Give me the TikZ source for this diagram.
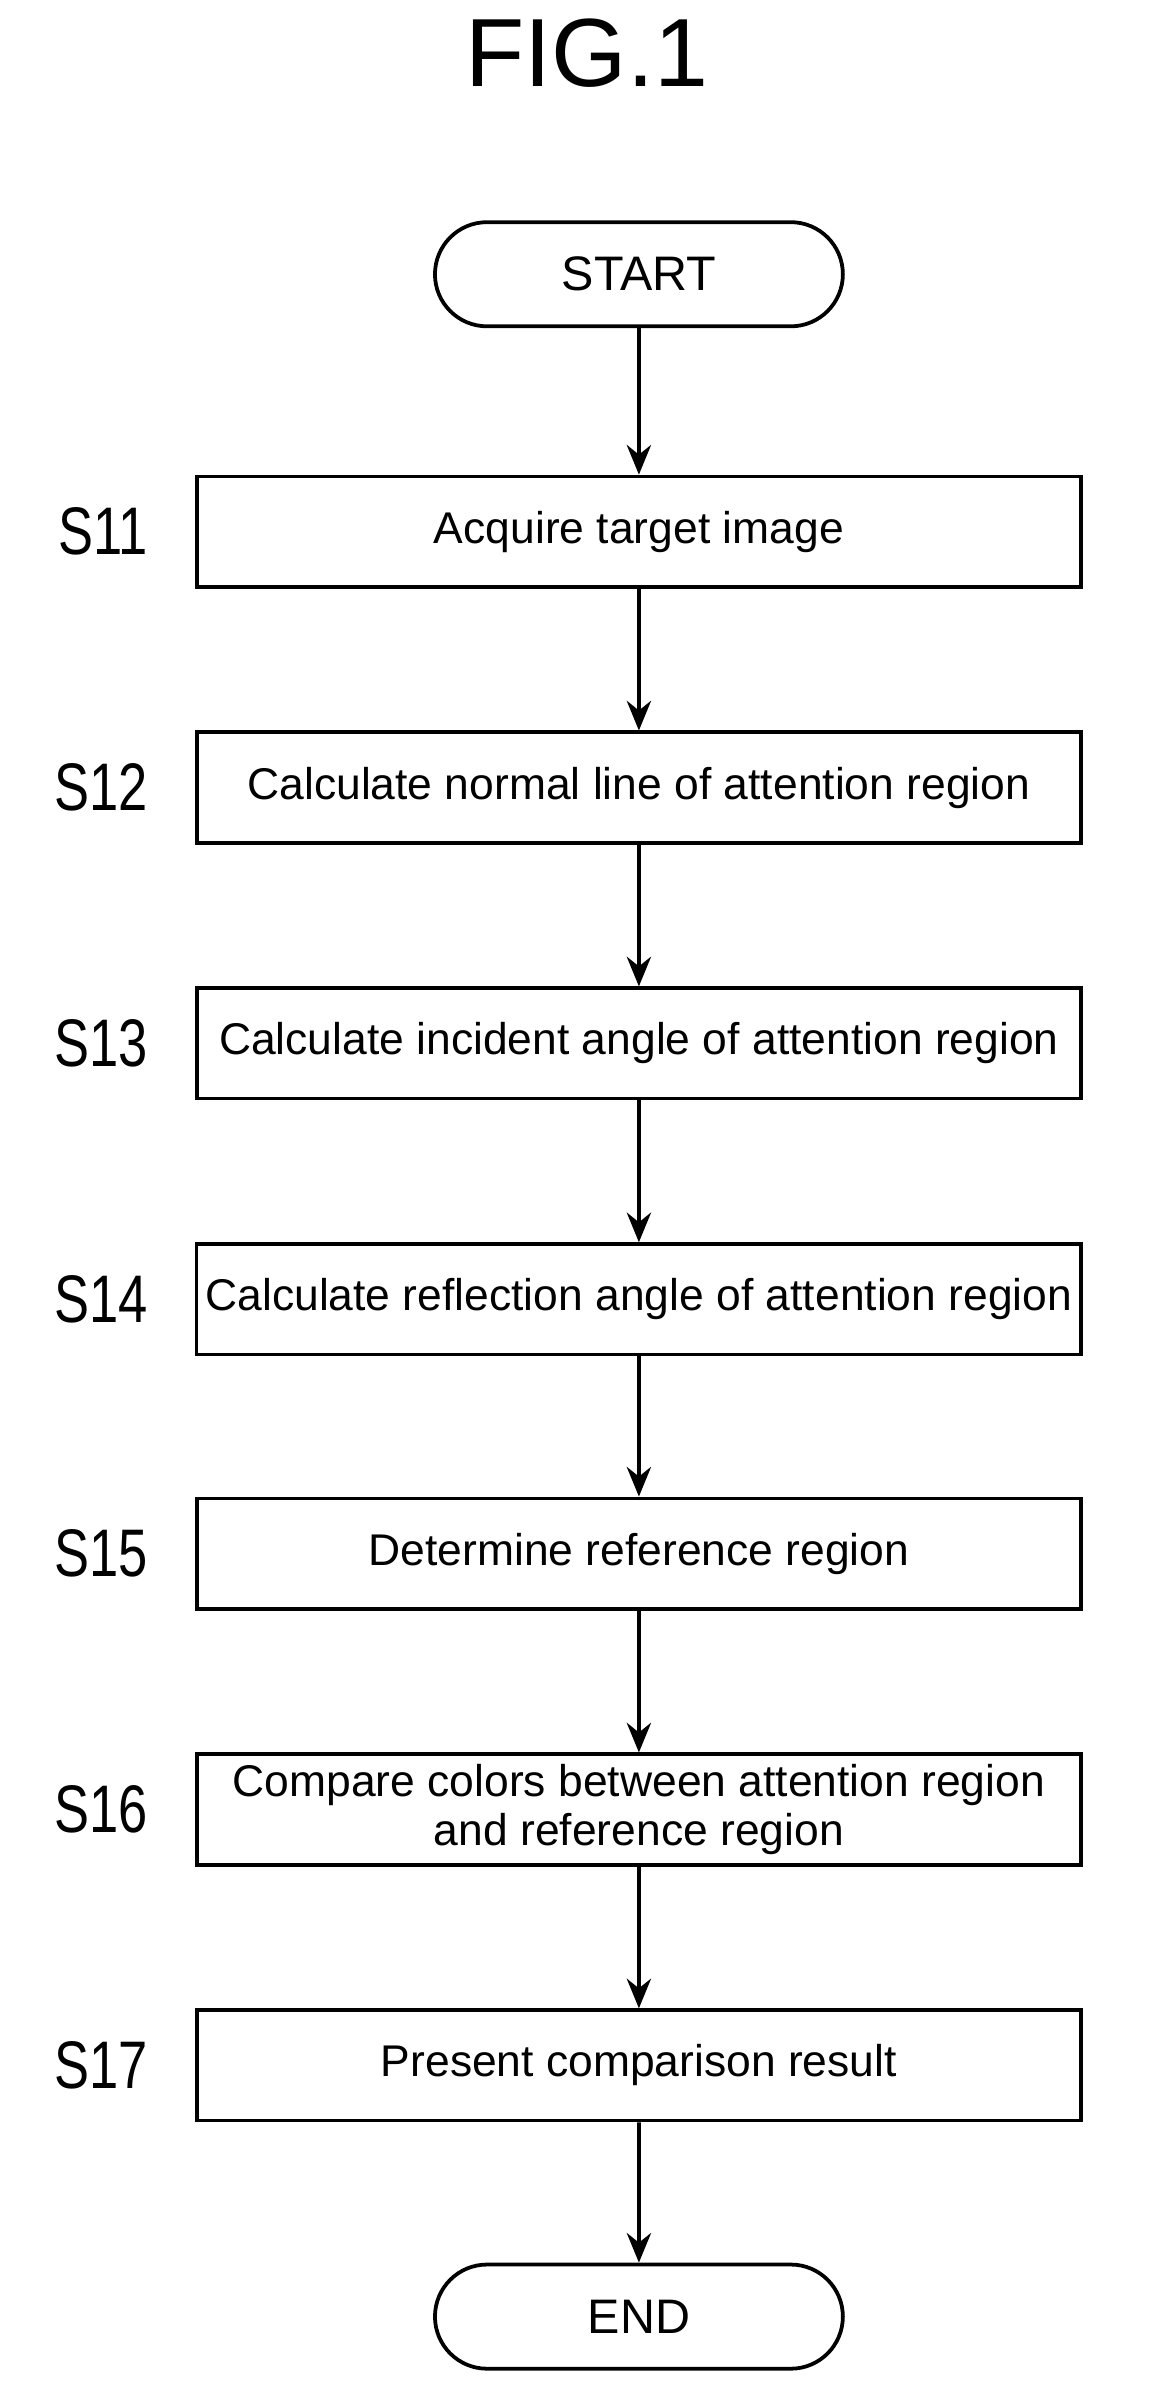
\documentclass[tikz,border=0pt]{standalone}
\usepackage{fontspec}
\setmainfont{Liberation Sans}
\newfontfamily\narrowfont[FakeStretch=0.78]{Liberation Sans}
\usetikzlibrary{arrows.meta, positioning, shapes.misc}

\begin{document}
\begin{tikzpicture}[
    x=0.02cm, y=-0.02cm,
    process/.style={rectangle, draw, line width=1.4pt, minimum width=11.54cm, minimum height=1.44cm, align=center, font=\fontsize{16.5}{18.5}\selectfont},
    terminal/.style={rounded rectangle, draw, line width=1.4pt, minimum width=5.56cm, minimum height=1.36cm, font=\fontsize{18}{20}\selectfont},
    steplabel/.style={font=\narrowfont\fontsize{25}{27}\selectfont, anchor=center},
    arrow/.style={-{Stealth[length=11pt,width=9pt]}, line width=1.4pt}
]
\useasboundingbox (0,0) rectangle (750,1571);

% Title
\node[font=\fontsize{36}{40}\selectfont] (title) at (383,35) {FIG.1};

% Terminals
\node[terminal] (start) at (417,179) {START};
\node[terminal] (end) at (417,1512) {END};

% Process steps
\node[process] (s11) at (417,347) {Acquire target image};
\node[process] (s12) at (417,514) {Calculate normal line of attention region};
\node[process] (s13) at (417,681) {Calculate incident angle of attention region};
\node[process] (s14) at (417,848) {Calculate reflection angle of attention region};
\node[process] (s15) at (417,1014) {Determine reference region};
\node[process] (s16) at (417,1181) {Compare colors between attention region\\and reference region};
\node[process] (s17) at (417,1348) {Present comparison result};

% Step labels
\foreach \n in {11,...,17}
    \node[steplabel, left=14pt of s\n] (l\n) {S\n};

% Flow
\draw[arrow] (start) -- (s11);
\draw[arrow] (s11) -- (s12);
\draw[arrow] (s12) -- (s13);
\draw[arrow] (s13) -- (s14);
\draw[arrow] (s14) -- (s15);
\draw[arrow] (s15) -- (s16);
\draw[arrow] (s16) -- (s17);
\draw[arrow] (s17) -- (end);

\end{tikzpicture}
\end{document}
